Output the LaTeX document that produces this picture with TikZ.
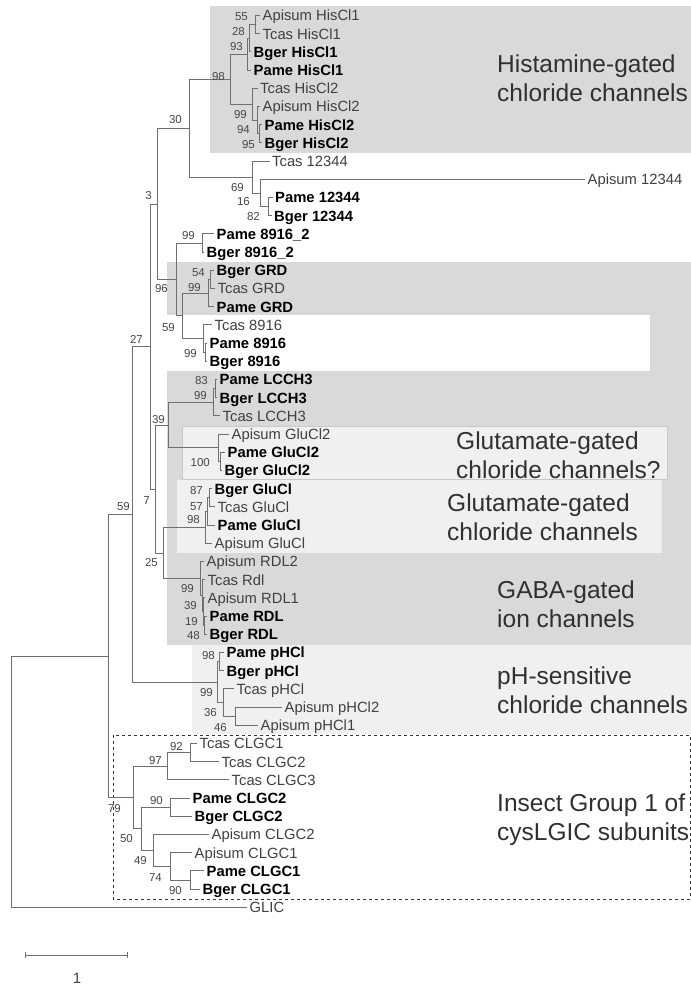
\documentclass[tikz,border=0pt]{standalone}
\usepackage{fontspec}
\setmainfont{Liberation Sans}
\usetikzlibrary{positioning}
\definecolor{lineGray}{HTML}{707070}
\definecolor{leafGray}{HTML}{404040}
\definecolor{bootGray}{HTML}{474747}
\definecolor{boxDark}{HTML}{D9D9D9}
\definecolor{boxLight}{HTML}{F0F0F0}
\definecolor{boxEdge}{HTML}{C8C8C8}
\definecolor{grpText}{HTML}{303030}

\begin{document}
\begin{tikzpicture}[x=1pt, y=-1pt,
    branch/.style={draw=lineGray, line width=0.9pt},
    leaf/.style={anchor=west, inner xsep=2.5pt, inner ysep=0pt, text height=10.6pt,
                 text depth=0pt, font=\fontsize{14.8}{16}\selectfont, text=leafGray},
    leafb/.style={leaf, font=\fontsize{14.8}{16}\selectfont\bfseries, text=black},
    boot/.style={anchor=east, inner sep=0pt, text height=8.2pt, text depth=0pt,
                 font=\fontsize{11.5}{12}\selectfont, text=bootGray},
    grplabel/.style={anchor=base west, align=left, inner sep=0pt,
                 font=\fontsize{24.5}{29}\selectfont, text=grpText},
  ]
  \useasboundingbox (0,0) rectangle (691,986);
  \fill[white] (0,0) rectangle (691,986);

  % shaded groups
  \fill[boxDark] (210,6) rectangle (691,153);
  \fill[boxDark] (167,262) rectangle (691,645);
  \fill[white] (160,315) rectangle (650,371);
  \filldraw[fill=boxLight, draw=boxEdge, line width=0.6pt] (182,426) rectangle (667,479);
  \fill[boxLight] (177,480) rectangle (662,553);
  \fill[boxLight] (192,645) rectangle (691,734);
  \draw[dashed, draw=black!80, line width=0.9pt] (113,735) rectangle (690,899);

  % leaves
  \node[leaf]  (apHis1) at (260,15.5)  {Apisum HisCl1};
  \node[leaf]  (tcHis1) at (260,33.7)  {Tcas HisCl1};
  \node[leafb] (bgHis1) at (251,51.9)  {Bger HisCl1};
  \node[leafb] (paHis1) at (251,70.1)  {Pame HisCl1};
  \node[leaf]  (tcHis2) at (257.5,88.3) {Tcas HisCl2};
  \node[leaf]  (apHis2) at (260,106.5) {Apisum HisCl2};
  \node[leafb] (paHis2) at (262,124.7) {Pame HisCl2};
  \node[leafb] (bgHis2) at (262,142.9) {Bger HisCl2};
  \node[leaf]  (tc12344) at (269.5,161.1) {Tcas 12344};
  \node[leaf]  (ap12344) at (585,179.3)   {Apisum 12344};
  \node[leafb] (pa12344) at (272.5,197.5) {Pame 12344};
  \node[leafb] (bg12344) at (271.5,215.7) {Bger 12344};
  \node[leafb] (pa8916b) at (214,233.9) {Pame 8916\_2};
  \node[leafb] (bg8916b) at (204,252.1) {Bger 8916\_2};
  \node[leafb] (bgGRD) at (214,270.3) {Bger GRD};
  \node[leaf]  (tcGRD) at (215,288.5) {Tcas GRD};
  \node[leafb] (paGRD) at (214,306.7) {Pame GRD};
  \node[leaf]  (tc8916) at (212,324.9) {Tcas 8916};
  \node[leafb] (pa8916) at (207,343.1) {Pame 8916};
  \node[leafb] (bg8916) at (207,361.3) {Bger 8916};
  \node[leafb] (paLCCH) at (217,379.5) {Pame LCCH3};
  \node[leafb] (bgLCCH) at (217,397.7) {Bger LCCH3};
  \node[leaf]  (tcLCCH) at (220,415.9) {Tcas LCCH3};
  \node[leaf]  (apGlu2) at (229,434.1) {Apisum GluCl2};
  \node[leafb] (paGlu2) at (225,452.3) {Pame GluCl2};
  \node[leafb] (bgGlu2) at (222,470.5) {Bger GluCl2};
  \node[leafb] (bgGlu) at (212,488.7) {Bger GluCl};
  \node[leaf]  (tcGlu) at (215,506.9) {Tcas GluCl};
  \node[leafb] (paGlu) at (215,525.1) {Pame GluCl};
  \node[leaf]  (apGlu) at (212,543.3) {Apisum GluCl};
  \node[leaf]  (apRDL2) at (204,561.5) {Apisum RDL2};
  \node[leaf]  (tcRdl) at (205,579.7) {Tcas Rdl};
  \node[leaf]  (apRDL1) at (205,597.9) {Apisum RDL1};
  \node[leafb] (paRDL) at (207,616.1) {Pame RDL};
  \node[leafb] (bgRDL) at (207,634.3) {Bger RDL};
  \node[leafb] (paPH) at (224,652.5) {Pame pHCl};
  \node[leafb] (bgPH) at (224,670.7) {Bger pHCl};
  \node[leaf]  (tcPH) at (234,688.9) {Tcas pHCl};
  \node[leaf]  (apPH2) at (282,707.1) {Apisum pHCl2};
  \node[leaf]  (apPH1) at (258,725.3) {Apisum pHCl1};
  \node[leaf]  (tcCL1) at (197,743.5) {Tcas CLGC1};
  \node[leaf]  (tcCL2) at (219,761.7) {Tcas CLGC2};
  \node[leaf]  (tcCL3) at (229,779.9) {Tcas CLGC3};
  \node[leafb] (paCL2) at (190,798.1) {Pame CLGC2};
  \node[leafb] (bgCL2) at (192,816.3) {Bger CLGC2};
  \node[leaf]  (apCL2) at (209,834.5) {Apisum CLGC2};
  \node[leaf]  (apCL1) at (192,852.7) {Apisum CLGC1};
  \node[leafb] (paCL1) at (204,870.9) {Pame CLGC1};
  \node[leafb] (bgCL1) at (200,889.1) {Bger CLGC1};
  \node[leaf]  (glic) at (247,907.3) {GLIC};

  % internal nodes
  \coordinate (h55) at (255,24.6);
  \coordinate (h28) at (249,38.25);
  \coordinate (h93) at (247,54.2);
  \coordinate (h95) at (259,133.8);
  \coordinate (h94) at (257,120.2);
  \coordinate (h99) at (252,104.2);
  \coordinate (h98) at (230,79.2);
  \coordinate (k82) at (268,206.6);
  \coordinate (k16) at (260,193);
  \coordinate (k69) at (252,177);
  \coordinate (n30) at (189,128.65);
  \coordinate (f99) at (202,243);
  \coordinate (g54) at (210,279.4);
  \coordinate (g99) at (208,293);
  \coordinate (e8916) at (205,352.2);
  \coordinate (e99) at (203,338.6);
  \coordinate (n59b) at (182,315.8);
  \coordinate (n96) at (176,279.4);
  \coordinate (n3) at (157,204);
  \coordinate (lc83) at (215,388.6);
  \coordinate (lc99) at (213,402.3);
  \coordinate (gl2a) at (220,461.4);
  \coordinate (gl100) at (218,447.8);
  \coordinate (n39) at (168,425);
  \coordinate (gc87) at (209,497.8);
  \coordinate (gc57) at (207,511.5);
  \coordinate (gc98) at (205,527.4);
  \coordinate (r48) at (204,625.2);
  \coordinate (r19) at (203,611.6);
  \coordinate (r39) at (202,595.6);
  \coordinate (r99) at (200,578.6);
  \coordinate (n25) at (163,553);
  \coordinate (n7) at (155,489);
  \coordinate (n27) at (150,346.5);
  \coordinate (ph98) at (219,661.6);
  \coordinate (ph46) at (235,716.2);
  \coordinate (ph36) at (223,702.6);
  \coordinate (ph99) at (217,682.1);
  \coordinate (n59) at (132,514.3);
  \coordinate (c92) at (190,752.6);
  \coordinate (c97) at (167,766.3);
  \coordinate (c90a) at (170,807.2);
  \coordinate (c90b) at (190,880);
  \coordinate (c74) at (170,866.4);
  \coordinate (c49) at (153,850.5);
  \coordinate (c50) at (141,828.9);
  \coordinate (c79) at (133,797.6);
  \coordinate (nA) at (108,656);
  \coordinate (root) at (11,781.6);

  % branches
  \foreach \p/\c in {h55/apHis1.west, h55/tcHis1.west, h28/h55, h28/bgHis1.west,
      h93/h28, h93/paHis1.west, h95/paHis2.west, h95/bgHis2.west, h94/apHis2.west,
      h94/h95, h99/tcHis2.west, h99/h94, h98/h93, h98/h99,
      k82/pa12344.west, k82/bg12344.west, k16/ap12344.west, k16/k82,
      k69/tc12344.west, k69/k16, n30/h98, n30/k69}
    \draw[branch] (\p) |- (\c);
  \foreach \p/\c in {f99/pa8916b.west, f99/bg8916b.west, g54/bgGRD.west, g54/tcGRD.west,
      g99/g54, g99/paGRD.west, e8916/pa8916.west, e8916/bg8916.west,
      e99/tc8916.west, e99/e8916, n59b/g99, n59b/e99, n96/f99, n96/n59b,
      n3/n30, n3/n96}
    \draw[branch] (\p) |- (\c);
  \foreach \p/\c in {lc83/paLCCH.west, lc83/bgLCCH.west, lc99/lc83, lc99/tcLCCH.west,
      gl2a/paGlu2.west, gl2a/bgGlu2.west, gl100/apGlu2.west, gl100/gl2a,
      n39/lc99, n39/gl100, gc87/bgGlu.west, gc87/tcGlu.west, gc57/gc87,
      gc57/paGlu.west, gc98/gc57, gc98/apGlu.west, r48/paRDL.west, r48/bgRDL.west,
      r19/apRDL1.west, r19/r48, r39/tcRdl.west, r39/r19, r99/apRDL2.west, r99/r39,
      n25/gc98, n25/r99, n7/n39, n7/n25, n27/n3, n27/n7}
    \draw[branch] (\p) |- (\c);
  \foreach \p/\c in {ph98/paPH.west, ph98/bgPH.west, ph46/apPH2.west, ph46/apPH1.west,
      ph36/tcPH.west, ph36/ph46, ph99/ph98, ph99/ph36, n59/n27, n59/ph99,
      c92/tcCL1.west, c92/tcCL2.west, c97/c92, c97/tcCL3.west, c90a/paCL2.west,
      c90a/bgCL2.west, c90b/paCL1.west, c90b/bgCL1.west, c74/apCL1.west, c74/c90b,
      c49/apCL2.west, c49/c74, c50/c90a, c50/c49, c79/c97, c79/c50,
      nA/n59, nA/c79, root/nA, root/glic.west}
    \draw[branch] (\p) |- (\c);

  % bootstrap values
  \node[boot] (bh55) at (248,16) {55};
  \node[boot] (bh28) at (245,31) {28};
  \node[boot] (bh93) at (243,46) {93};
  \node[boot] (bh98) at (225,76) {98};
  \node[boot] (bh99) at (247,114) {99};
  \node[boot] (bh94) at (250,129) {94};
  \node[boot] (bh95) at (255,144) {95};
  \node[boot] (bn30) at (182,119) {30};
  \node[boot] (bk69) at (244,187) {69};
  \node[boot] (bk16) at (250,201) {16};
  \node[boot] (bk82) at (260,216) {82};
  \node[boot] (bn3) at (152,195) {3};
  \node[boot] (bf99) at (195,235) {99};
  \node[boot] (bn96) at (168,288) {96};
  \node[boot] (bg54) at (205,272) {54};
  \node[boot] (bg99) at (201,287) {99};
  \node[boot] (bn59b) at (175,327) {59};
  \node[boot] (be99) at (197,353) {99};
  \node[boot] (bn27) at (143,339) {27};
  \node[boot] (blc83) at (208,380) {83};
  \node[boot] (blc99) at (207,395) {99};
  \node[boot] (bn39) at (165,419) {39};
  \node[boot] (bgl100) at (210,462) {100};
  \node[boot] (bn7) at (150,500) {7};
  \node[boot] (bgc87) at (203,490) {87};
  \node[boot] (bgc57) at (203,506) {57};
  \node[boot] (bgc98) at (200,519) {98};
  \node[boot] (bn25) at (158,562) {25};
  \node[boot] (br99) at (194,588) {99};
  \node[boot] (br39) at (197,605) {39};
  \node[boot] (br19) at (198,621) {19};
  \node[boot] (br48) at (200,635) {48};
  \node[boot] (bn59) at (130,506) {59};
  \node[boot] (bph98) at (215,655) {98};
  \node[boot] (bph99) at (213,692) {99};
  \node[boot] (bph36) at (217,712) {36};
  \node[boot] (bph46) at (227,727) {46};
  \node[boot] (bc92) at (183,746) {92};
  \node[boot] (bc97) at (162,760) {97};
  \node[boot] (bc90a) at (163,800) {90};
  \node[boot] (bc79) at (121,808) {79};
  \node[boot] (bc50) at (133,838) {50};
  \node[boot] (bc49) at (147,860) {49};
  \node[boot] (bc74) at (162,877) {74};
  \node[boot] (bc90b) at (182,890) {90};

  % group names (base = last line)
  \node[grplabel] (gHis) at (497,101.5) {Histamine-gated\\chloride channels};
  \node[grplabel] (gGlu2) at (456,478.5) {Glutamate-gated\\chloride channels?};
  \node[grplabel] (gGlu) at (447,540.5) {Glutamate-gated\\chloride channels};
  \node[grplabel] (gGABA) at (497,627) {GABA-gated\\ion channels};
  \node[grplabel] (gPH) at (497,713.5) {pH-sensitive\\chloride channels};
  \node[grplabel] (gIns) at (497,840) {Insect Group 1 of\\cysLGIC subunits};

  % scale bar
  \coordinate (sbL) at (25,955);
  \coordinate (sbR) at (127,955);
  \draw[branch] (sbL) -- (sbR);
  \draw[branch] ([yshift=3pt]sbL) -- ([yshift=-3pt]sbL);
  \draw[branch] ([yshift=3pt]sbR) -- ([yshift=-3pt]sbR);
  \node[font=\fontsize{15}{16}\selectfont, text=leafGray] (sbLabel) at (77,978) {1};
\end{tikzpicture}
\end{document}
